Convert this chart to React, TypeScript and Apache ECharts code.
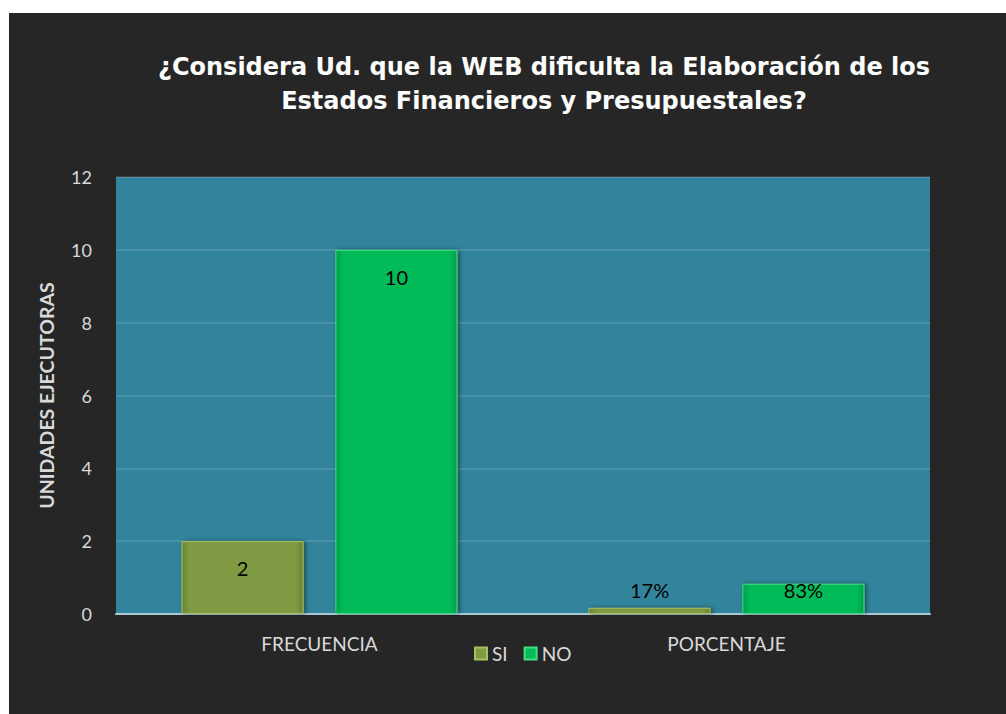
import React, { useEffect, useRef } from "react";
import * as echarts from "echarts";

const titleLines = [
  "¿Considera Ud. que la WEB dificulta la Elaboración de los",
  "Estados Financieros y Presupuestales?",
];
const categories = ["FRECUENCIA", "PORCENTAJE"];
const seriesNames = ["SI", "NO"];
const siValues = [2, 0.17];
const noValues = [10, 0.83];
const siLabels = ["2", "17%"];
const noLabels = ["10", "83%"];
const yTicks = { min: 0, max: 12, interval: 2 };
const yAxisName = "UNIDADES EJECUTORAS";

const FONT = "Lato, 'Open Sans', sans-serif";
const LIGHT = "#d9d9d9";

function labelFor(value: number, text: string) {
  const small = value < 0.5;
  return {
    value,
    label: small
      ? { position: "top", distance: 8, formatter: () => text }
      : value < 1
      ? { position: "insideTop", distance: -4, formatter: () => text }
      : { position: "insideTop", distance: 17, formatter: () => text },
  };
}

function barStyle(base: string, light: string, dark: string) {
  return {
    color: {
      type: "linear",
      x: 0,
      y: 0,
      x2: 1,
      y2: 0,
      colorStops: [
        { offset: 0, color: dark },
        { offset: 0.06, color: base },
        { offset: 0.94, color: base },
        { offset: 1, color: dark },
      ],
    },
    borderColor: light,
    borderWidth: 1,
    shadowColor: "rgba(0,0,0,0.45)",
    shadowBlur: 4,
    shadowOffsetX: 2,
  };
}

export default function App() {
  const ref = useRef<HTMLDivElement>(null);
  useEffect(() => {
    if (!ref.current) return;
    const chart = echarts.init(ref.current, null, { renderer: "svg" });
    const barCommon = {
      type: "bar",
      barWidth: "30%",
      barGap: "26%",
      label: {
        show: true,
        color: "#000",
        fontSize: 20,
        fontFamily: FONT,
      },
    };
    chart.setOption({
      animation: false,
      backgroundColor: "#262626",
      textStyle: { fontFamily: FONT },
      graphic: titleLines.map((t, i) => ({
        type: "text",
        x: 535,
        y: 54 + i * 34,
        style: {
          text: t,
          fill: "#ffffff",
          font: `bold 24px 'DejaVu Sans', sans-serif`,
          textAlign: "center",
          textVerticalAlign: "middle",
        },
      })),
      grid: {
        left: 107,
        top: 164,
        width: 814,
        height: 437,
        show: true,
        backgroundColor: "#31849b",
        borderWidth: 0,
      },
      legend: {
        data: seriesNames,
        left: 460,
        top: 626,
        icon: "rect",
        itemWidth: 12,
        itemHeight: 12,
        itemGap: 16,
        textStyle: { color: LIGHT, fontSize: 19, fontFamily: FONT },
      },
      xAxis: {
        type: "category",
        data: categories,
        axisLine: { show: true, lineStyle: { color: "#a9c9d6", width: 2 } },
        axisTick: { show: false },
        axisLabel: { color: LIGHT, fontSize: 19, margin: 20, fontFamily: FONT },
      },
      yAxis: {
        type: "value",
        min: yTicks.min,
        max: yTicks.max,
        interval: yTicks.interval,
        name: yAxisName,
        nameLocation: "middle",
        nameRotate: 90,
        nameGap: 60,
        nameTextStyle: { color: LIGHT, fontSize: 19.5, fontWeight: "bold", fontFamily: FONT },
        axisLine: { show: false },
        axisTick: { show: false },
        axisLabel: { color: LIGHT, fontSize: 18, margin: 24, fontFamily: FONT },
        splitLine: { lineStyle: { color: "rgba(255,255,255,0.12)", width: 2 } },
      },
      series: [
        {
          ...barCommon,
          name: seriesNames[0],
          itemStyle: barStyle("#7f9a42", "#a8c060", "#6a8236"),
          data: siValues.map((v, i) => labelFor(v, siLabels[i])),
        },
        {
          ...barCommon,
          name: seriesNames[1],
          itemStyle: barStyle("#05bb58", "#3ee07f", "#04a04a"),
          data: noValues.map((v, i) => labelFor(v, noLabels[i])),
        },
      ],
    });
    return () => chart.dispose();
  }, []);
  return (
    <div
      ref={ref}
      style={{ position: "absolute", left: 9, top: 13, width: 997, height: 701 }}
    />
  );
}
